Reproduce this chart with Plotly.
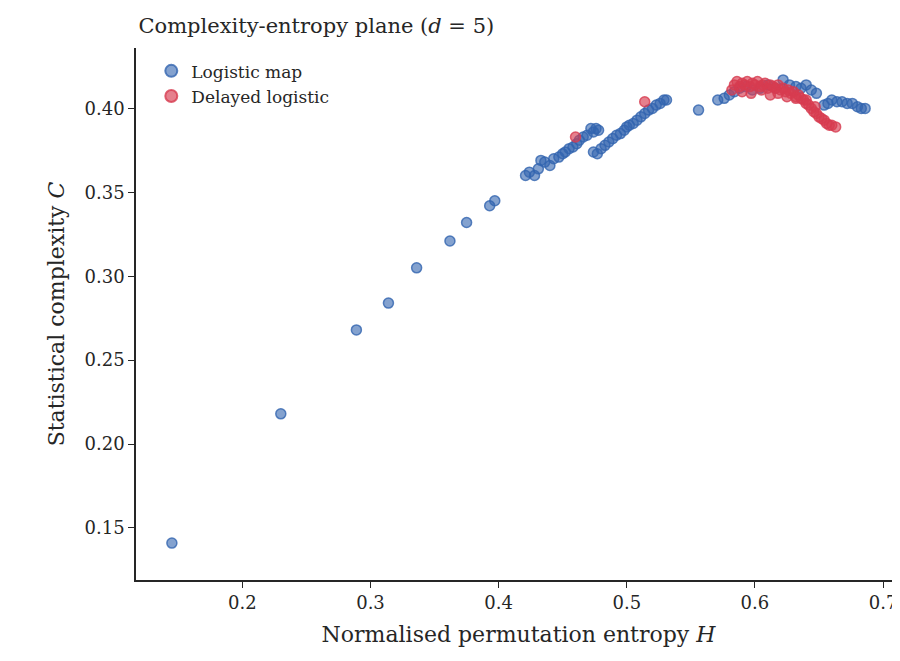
import plotly.graph_objects as go

log_H = [0.145,0.230,0.289,0.314,0.336,0.362,0.375,0.393,0.397,
 0.421,0.424,0.428,0.431,0.433,0.436,0.440,0.443,0.447,0.450,0.452,0.455,0.458,0.461,0.463,0.466,0.469,0.472,0.474,0.476,0.478,
 0.474,0.477,0.480,0.483,0.486,0.489,0.492,0.495,0.498,0.500,0.502,0.505,0.508,0.511,0.514,0.517,0.520,0.523,0.526,0.529,0.531,
 0.556,0.571,0.576,0.580,0.584,0.588,0.593,0.598,0.604,0.610,0.616,0.622,0.627,0.632,0.636,0.640,0.644,0.648,
 0.654,0.657,0.660,0.664,0.668,0.672,0.676,0.680,0.683,0.686]
log_C = [0.141,0.218,0.268,0.284,0.305,0.321,0.332,0.342,0.345,
 0.360,0.362,0.360,0.364,0.369,0.368,0.366,0.370,0.371,0.373,0.374,0.376,0.377,0.379,0.381,0.383,0.384,0.388,0.386,0.388,0.387,
 0.374,0.373,0.376,0.378,0.380,0.382,0.384,0.385,0.387,0.389,0.390,0.391,0.393,0.395,0.397,0.399,0.400,0.402,0.403,0.405,0.405,
 0.399,0.405,0.406,0.408,0.410,0.412,0.413,0.411,0.412,0.414,0.412,0.417,0.414,0.413,0.412,0.414,0.411,0.409,
 0.402,0.403,0.405,0.404,0.404,0.403,0.403,0.401,0.400,0.400]

del_H = [0.460,0.514,
 0.582,0.584,0.586,0.588,0.590,0.592,0.594,0.596,0.598,0.600,0.602,0.604,0.606,0.608,0.610,0.612,0.614,0.616,0.618,0.620,
 0.622,0.624,0.626,0.628,0.630,0.632,0.634,0.636,0.638,0.640,0.642,0.644,0.646,0.648,0.650,0.652,0.654,0.656,0.658,0.660,0.663,
 0.590,0.597,0.605,0.612,0.618,0.625,0.632,0.640,0.647]
del_C = [0.383,0.404,
 0.411,0.414,0.416,0.413,0.415,0.414,0.416,0.413,0.415,0.414,0.416,0.413,0.414,0.415,0.412,0.414,0.413,0.412,0.414,0.411,
 0.412,0.410,0.411,0.409,0.410,0.407,0.408,0.406,0.405,0.403,0.402,0.400,0.398,0.397,0.395,0.394,0.393,0.391,0.390,0.390,0.389,
 0.410,0.409,0.411,0.408,0.409,0.407,0.406,0.405,0.401]

font = "DejaVu Serif"
fig = go.Figure()
fig.add_trace(go.Scatter(x=log_H, y=log_C, mode="markers", name="Logistic map",
    marker=dict(size=10, color="rgba(50,100,175,0.6)", line=dict(color="rgba(50,100,175,0.8)", width=1.5))))
fig.add_trace(go.Scatter(x=del_H, y=del_C, mode="markers", name="Delayed logistic",
    marker=dict(size=10, color="rgba(215,60,80,0.65)", line=dict(color="rgba(215,60,80,0.8)", width=1.5))))
ax = dict(showgrid=False, zeroline=False, showline=True, linecolor="#262626", linewidth=1.5,
          ticks="outside", tickcolor="#262626", ticklen=6, tickfont=dict(size=18, color="#262626"))
fig.update_layout(
    width=900, height=661, plot_bgcolor="white", paper_bgcolor="white",
    font=dict(family=font, color="#262626"),
    margin=dict(l=128, r=7, t=40, b=89, autoexpand=False),
    title=dict(text="Complexity-entropy plane (<i>d</i> = 5)", x=0.145, xanchor="left", y=0.985, yanchor="top", font=dict(size=21)),
    xaxis=dict(ax, range=[0.117, 0.714], tickvals=[0.2,0.3,0.4,0.5,0.6,0.7],
               title=dict(text="Normalised permutation entropy <i>H</i>", font=dict(size=22), standoff=14)),
    yaxis=dict(ax, range=[0.119, 0.436], tickvals=[0.15,0.20,0.25,0.30,0.35,0.40], tickformat=".2f",
               title=dict(text="Statistical complexity <i>C</i>", font=dict(size=22), standoff=14)),
    legend=dict(x=0.02, y=0.99, font=dict(size=17), itemsizing="constant", bgcolor="rgba(0,0,0,0)"),
)
fig.write_html("out.html")
